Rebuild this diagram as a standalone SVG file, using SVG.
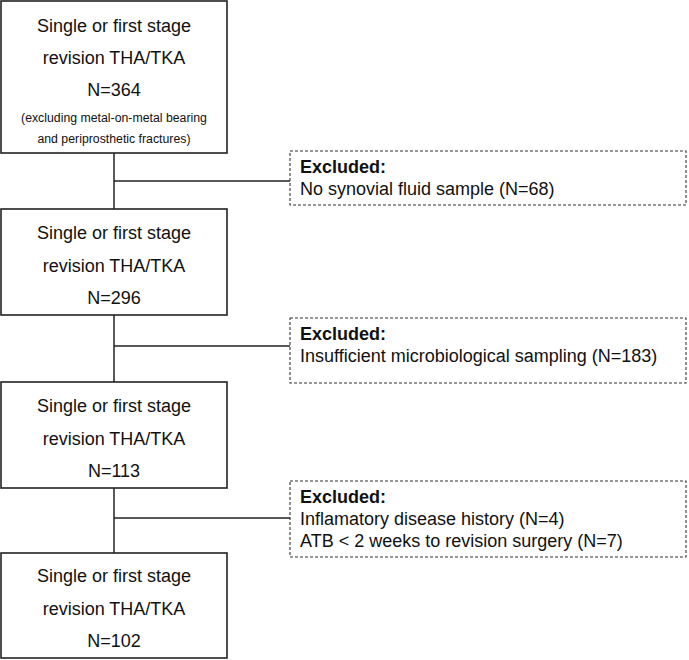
<svg xmlns="http://www.w3.org/2000/svg" width="689" height="660" viewBox="0 0 689 660">
<style>
.box{fill:#fff;stroke:#222;stroke-width:1.6}
.dbox{fill:#fff;stroke:#333;stroke-width:1.1;stroke-dasharray:3 2}
.t{font-family:"Liberation Sans",Arial,sans-serif;font-size:18px;fill:#111;text-anchor:middle}
.s{font-family:"Liberation Sans",Arial,sans-serif;font-size:12.3px;fill:#111;text-anchor:middle}
.e{font-family:"Liberation Sans",Arial,sans-serif;font-size:18px;fill:#111}
.b{font-weight:bold}
.c{stroke:#222;stroke-width:1.5;fill:none}
</style>
<rect width="689" height="660" fill="#fff"/>
<g id="connectors">
<line class="c" x1="114" y1="153" x2="114" y2="209"/>
<line class="c" x1="114" y1="181" x2="290" y2="181"/>
<line class="c" x1="114" y1="315" x2="114" y2="382"/>
<line class="c" x1="114" y1="346" x2="290" y2="346"/>
<line class="c" x1="114" y1="488" x2="114" y2="553"/>
<line class="c" x1="114" y1="518" x2="290" y2="518"/>
</g>
<g id="n1">
<rect class="box" x="1" y="1" width="226" height="152"/>
<text class="t" x="114" y="32">Single or first stage</text>
<text class="t" x="114" y="64">revision THA/TKA</text>
<text class="t" x="114" y="96">N=364</text>
<text class="s" x="114" y="122">(excluding metal-on-metal bearing</text>
<text class="s" x="114" y="143">and periprosthetic fractures)</text>
</g>
<g id="n2">
<rect class="box" x="1" y="209" width="226" height="106"/>
<text class="t" x="114" y="239">Single or first stage</text>
<text class="t" x="114" y="271.5">revision THA/TKA</text>
<text class="t" x="114" y="304">N=296</text>
</g>
<g id="n3">
<rect class="box" x="1" y="382" width="226" height="106"/>
<text class="t" x="114" y="412">Single or first stage</text>
<text class="t" x="114" y="444.5">revision THA/TKA</text>
<text class="t" x="114" y="477">N=113</text>
</g>
<g id="n4">
<rect class="box" x="1" y="553" width="226" height="105"/>
<text class="t" x="114" y="582">Single or first stage</text>
<text class="t" x="114" y="614.5">revision THA/TKA</text>
<text class="t" x="114" y="647">N=102</text>
</g>
<g id="ex1">
<rect class="dbox" x="290" y="151" width="396" height="54"/>
<text class="e b" x="300" y="173">Excluded:</text>
<text class="e" x="300" y="195">No synovial fluid sample (N=68)</text>
</g>
<g id="ex2">
<rect class="dbox" x="290" y="318" width="396" height="65"/>
<text class="e b" x="300" y="340">Excluded:</text>
<text class="e" x="300" y="362">Insufficient microbiological sampling (N=183)</text>
</g>
<g id="ex3">
<rect class="dbox" x="290" y="481" width="396" height="76"/>
<text class="e b" x="300" y="503">Excluded:</text>
<text class="e" x="300" y="525">Inflamatory disease history (N=4)</text>
<text class="e" x="300" y="547">ATB &lt; 2 weeks to revision surgery (N=7)</text>
</g>
</svg>
